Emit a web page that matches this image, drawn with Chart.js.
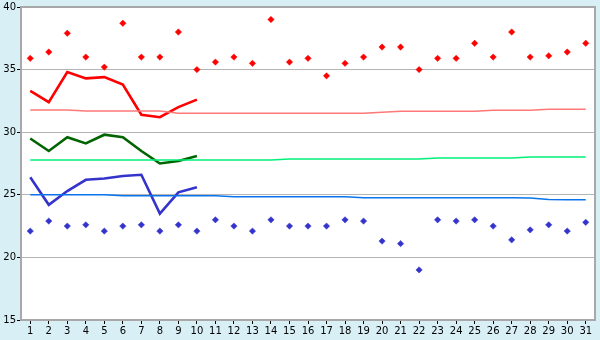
<!DOCTYPE html>
<html>
<head>
<meta charset="utf-8">
<script src="https://cdn.jsdelivr.net/npm/chart.js@4/dist/chart.umd.min.js"></script>
<style>
  html, body { margin: 0; padding: 0; background: #d9eff6; }
  canvas { display: block; }
</style>
</head>
<body>
<canvas id="tempChart" width="600" height="340"></canvas>
<script>
// 日期
const days = ["1", "2", "3", "4", "5", "6", "7", "8", "9", "10", "11", "12", "13", "14", "15", "16",
  "17", "18", "19", "20", "21", "22", "23", "24", "25", "26", "27", "28", "29", "30", "31"];

// 每日最高 / 最低（散点）
const maxTemps = [35.9, 36.4, 37.9, 36.0, 35.2, 38.7, 36.0, 36.0, 38.0, 35.0, 35.6, 36.0, 35.5, 39.0, 35.6, 35.9,
  34.5, 35.5, 36.0, 36.8, 36.8, 35.0, 35.9, 35.9, 37.1, 36.0, 38.0, 36.0, 36.1, 36.4, 37.1];
const minTemps = [22.1, 22.9, 22.5, 22.6, 22.1, 22.5, 22.6, 22.1, 22.6, 22.1, 23.0, 22.5, 22.1, 23.0, 22.5, 22.5,
  22.5, 23.0, 22.9, 21.3, 21.1, 19.0, 23.0, 22.9, 23.0, 22.5, 21.4, 22.2, 22.6, 22.1, 22.8];

// 前十天的折线
const maxLine = [33.3, 32.4, 34.8, 34.3, 34.4, 33.8, 31.4, 31.2, 32.0, 32.6];
const meanLine = [29.5, 28.5, 29.6, 29.1, 29.8, 29.6, 28.5, 27.5, 27.7, 28.1];
const minLine = [26.4, 24.2, 25.3, 26.2, 26.3, 26.5, 26.6, 23.5, 25.2, 25.6];

// 常年值（细线）
const normalMax = [31.77, 31.77, 31.77, 31.69, 31.69, 31.69, 31.69, 31.69, 31.51, 31.51, 31.51, 31.51, 31.51,
  31.51, 31.51, 31.51, 31.51, 31.51, 31.51, 31.59, 31.67, 31.67, 31.67, 31.67, 31.67, 31.75, 31.75, 31.75,
  31.83, 31.83, 31.83];
const normalMean = [27.78, 27.78, 27.78, 27.78, 27.78, 27.78, 27.78, 27.78, 27.78, 27.78, 27.78, 27.78, 27.78,
  27.78, 27.86, 27.86, 27.86, 27.86, 27.86, 27.86, 27.86, 27.86, 27.94, 27.94, 27.94, 27.94, 27.94, 28.02,
  28.02, 28.02, 28.02];
const normalMin = [25.0, 25.0, 25.0, 25.0, 25.0, 24.92, 24.92, 24.92, 24.92, 24.92, 24.92, 24.84, 24.84, 24.84,
  24.84, 24.84, 24.84, 24.84, 24.76, 24.76, 24.76, 24.76, 24.76, 24.76, 24.76, 24.76, 24.76, 24.74, 24.62,
  24.6, 24.6];

const yTicks = [15, 20, 25, 30, 35, 40];

// 背景与边框
const frame = {
  id: "frame",
  beforeDraw(chart) {
    const { ctx, chartArea: a } = chart;
    ctx.save();
    ctx.fillStyle = "#d9eff6";
    ctx.fillRect(0, 0, chart.width, chart.height);
    ctx.fillStyle = "#ffffff";
    ctx.fillRect(a.left, a.top, a.right - a.left, a.bottom - a.top);
    ctx.restore();
  },
  beforeDatasetsDraw(chart) {
    const { ctx, chartArea: a } = chart;
    ctx.save();
    ctx.strokeStyle = "#a8a8a8";
    ctx.lineWidth = 2;
    ctx.strokeRect(a.left, a.top, a.right - a.left, a.bottom - a.top);
    ctx.restore();
  }
};

Chart.defaults.font.family = "'DejaVu Sans'";
Chart.defaults.font.size = 10;
Chart.defaults.color = "#000000";

function thin(data, color) {
  return { data: data, borderColor: color, borderWidth: 1.4, pointRadius: 0, tension: 0, fill: false };
}

function thick(data, color) {
  return { data: data, borderColor: color, borderWidth: 2.6, pointRadius: 0, tension: 0, fill: false };
}

function dots(data, color) {
  return {
    data: data, showLine: false, pointStyle: "rectRot", pointRadius: 3.2,
    pointBackgroundColor: color, pointBorderColor: color, pointBorderWidth: 0.5
  };
}

new Chart(document.getElementById("tempChart"), {
  type: "line",
  data: {
    labels: days,
    datasets: [
      thin(normalMax, "#ff7878"),
      thin(normalMean, "#00f078"),
      thin(normalMin, "#0a74ee"),
      thick(maxLine, "#ff0000"),
      thick(meanLine, "#006400"),
      thick(minLine, "#3434cc"),
      dots(maxTemps, "#ff0000"),
      dots(minTemps, "#3434cc")
    ]
  },
  options: {
    responsive: false,
    animation: false,
    events: [],
    layout: { padding: { top: 5, right: 5, left: 0, bottom: 0 } },
    plugins: { legend: { display: false }, tooltip: { enabled: false } },
    scales: {
      x: {
        offset: true,
        grid: { drawOnChartArea: false, tickLength: 4, tickColor: "#000000" },
        border: { display: false },
        ticks: { padding: 1, maxRotation: 0, autoSkip: false },
        afterFit(scale) { scale.height = 20; }
      },
      y: {
        min: 15,
        max: 40,
        grid: { color: "#b4b4b4", tickLength: 4, tickColor: "#000000" },
        border: { display: false },
        ticks: { padding: 1 },
        afterBuildTicks(scale) { scale.ticks = yTicks.map(v => ({ value: v })); },
        afterFit(scale) { scale.width = 21; }
      }
    }
  },
  plugins: [frame]
});
</script>
</body>
</html>
